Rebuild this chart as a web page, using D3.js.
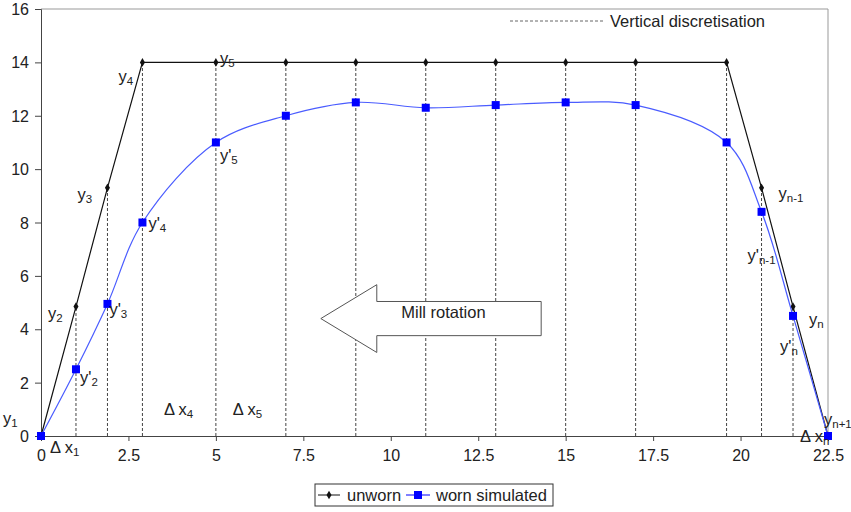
<!DOCTYPE html>
<html>
<head>
<meta charset="utf-8">
<script src="https://cdn.jsdelivr.net/npm/d3@7"></script>
<style>
  body { margin: 0; background: #fff; }
  text { font-family: "Liberation Sans", Arial, sans-serif; fill: #222; }
</style>
</head>
<body>
<div id="chart"></div>
<script>
// data
let xs = [0, 1, 1.9, 2.9, 5, 7, 9, 11, 13, 15, 17, 19.6, 20.6, 21.5, 22.5]
let unworn = [0, 4.85, 9.3, 14, 14, 14, 14, 14, 14, 14, 14, 14, 9.3, 4.85, 0]
let worn = [0, 2.5, 4.95, 8.0, 11.0, 12.0, 12.5, 12.3, 12.4, 12.5, 12.4, 11.0, 8.4, 4.5, 0]
let xTicks = [0, 2.5, 5, 7.5, 10, 12.5, 15, 17.5, 20, 22.5]
let yTicks = [0, 2, 4, 6, 8, 10, 12, 14, 16]

// point labels: [x, y, main, sub, dx, dy]
let labels = [
    [0, 0, "y", "1", -38, -12],
    [1, 4.85, "y", "2", -28, 12],
    [1.9, 9.3, "y", "3", -30, 12],
    [2.9, 14, "y", "4", -24, 20],
    [5, 14, "y", "5", 4, 2],
    [5, 11, "y'", "5", 4, 19],
    [2.9, 8.0, "y'", "4", 6, 6],
    [1.9, 4.95, "y'", "3", 2, 11],
    [1, 2.5, "y'", "2", 4, 14],
    [20.6, 9.3, "y", "n-1", 17, 11],
    [20.6, 8.4, "y'", "n-1", -14, 49],
    [21.5, 4.85, "y", "n", 16, 18],
    [21.5, 4.5, "y'", "n", -13, 36],
    [22.5, 0, "y", "n+1", -4, -11],
    [0, 0, "\u0394 x", "1", 9, 17],
    [4, 0, "\u0394 x", "4", -17, -21],
    [6, 0, "\u0394 x", "5", -18, -21],
    [22.5, 0, "\u0394 x", "n", -28, 6]
]

let margin = {top: 9, right: 23, bottom: 76, left: 41}
let width = 851 - margin.left - margin.right
let height = 512 - margin.top - margin.bottom

let svg = d3.select("#chart")
    .append("svg")
    .attr("width", 851)
    .attr("height", 512)

let g = svg.append("g")
    .attr("transform", "translate(" + margin.left + "," + margin.top + ")")

let x = d3.scaleLinear().domain([0, 22.5]).range([0, width])
let y = d3.scaleLinear().domain([0, 16]).range([height, 0])

// frame (top and right)
g.append("path")
    .attr("d", "M0,0H" + width + "V" + height)
    .attr("fill", "none")
    .attr("stroke", "#999")

// vertical discretisation lines
g.selectAll(".vline")
    .data(xs.slice(1, -1))
    .enter()
    .append("line")
    .attr("class", "vline")
    .attr("x1", (d) => x(d))
    .attr("x2", (d) => x(d))
    .attr("y1", y(0))
    .attr("y2", (d, i) => y(unworn[i + 1]))
    .attr("stroke", "#444")
    .attr("stroke-dasharray", "3,2")

let xAxis = g.append("g")
    .attr("transform", "translate(0," + height + ")")
    .call(d3.axisBottom(x).tickValues(xTicks).tickSize(5).tickPadding(9).tickFormat(d3.format("")))
let yAxis = g.append("g")
    .call(d3.axisLeft(y).tickValues(yTicks).tickSize(6).tickPadding(6))

for (let ax of [xAxis, yAxis]) {
    ax.select(".domain").attr("stroke", "#444")
    ax.selectAll(".tick line").attr("stroke", "#444")
    ax.selectAll("text").style("font-size", "16px").attr("fill", "#222")
}
yAxis.selectAll("text").attr("dy", "0.35em")

// unworn series
let unwornData = xs.map((d, i) => ({x: d, y: unworn[i]}))
let wornData = xs.map((d, i) => ({x: d, y: worn[i]}))

g.append("path")
    .datum(unwornData)
    .attr("d", d3.line().x((d) => x(d.x)).y((d) => y(d.y)))
    .attr("fill", "none")
    .attr("stroke", "#111")
    .attr("stroke-width", 1.2)

g.selectAll(".dia")
    .data(unwornData)
    .enter()
    .append("path")
    .attr("class", "dia")
    .attr("d", d3.symbol(d3.symbolDiamond, 22))
    .attr("transform", (d) => "translate(" + x(d.x) + "," + y(d.y) + ")")
    .attr("fill", "#111")

// worn simulated series
g.append("path")
    .datum(wornData)
    .attr("d", d3.line().x((d) => x(d.x)).y((d) => y(d.y)).curve(d3.curveCatmullRom.alpha(0.5)))
    .attr("fill", "none")
    .attr("stroke", "#4a5cff")
    .attr("stroke-width", 1.2)

g.selectAll(".sq")
    .data(wornData)
    .enter()
    .append("rect")
    .attr("class", "sq")
    .attr("x", (d) => x(d.x) - 4)
    .attr("y", (d) => y(d.y) - 4)
    .attr("width", 8)
    .attr("height", 8)
    .attr("fill", "#0000ff")

// point labels
let lab = g.selectAll(".lab")
    .data(labels)
    .enter()
    .append("text")
    .attr("class", "lab")
    .attr("x", (d) => x(d[0]) + d[4])
    .attr("y", (d) => y(d[1]) + d[5])
    .style("font-size", "16.5px")
lab.append("tspan").text((d) => d[2])
lab.append("tspan")
    .text((d) => d[3])
    .style("font-size", "11.5px")
    .attr("dy", 3)

// mill rotation arrow (in data units)
let ac = 4.4
let arrow = [
    [8, ac], [9.6, ac + 1.27], [9.6, ac + 0.64], [14.3, ac + 0.64],
    [14.3, ac - 0.64], [9.6, ac - 0.64], [9.6, ac - 1.27]
]
g.append("path")
    .attr("d", d3.line().x((d) => x(d[0])).y((d) => y(d[1]))(arrow) + "Z")
    .attr("fill", "#fff")
    .attr("stroke", "#555")
    .attr("stroke-width", 1)
g.append("text")
    .attr("x", x(10.3))
    .attr("y", y(ac) - 1)
    .style("font-size", "16.5px")
    .text("Mill rotation")

// top legend
svg.append("line")
    .attr("x1", 510).attr("x2", 605).attr("y1", 21).attr("y2", 21)
    .attr("stroke", "#666").attr("stroke-dasharray", "3,2")
svg.append("text")
    .attr("x", 610).attr("y", 27)
    .style("font-size", "16.5px")
    .text("Vertical discretisation")

// bottom legend
let lg = svg.append("g").attr("transform", "translate(315,484)")
lg.append("rect")
    .attr("width", 238).attr("height", 22)
    .attr("fill", "#fff").attr("stroke", "#333")
lg.append("line").attr("x1", 3).attr("x2", 25).attr("y1", 11).attr("y2", 11).attr("stroke", "#111")
lg.append("path").attr("d", d3.symbol(d3.symbolDiamond, 22)).attr("transform", "translate(14,11)").attr("fill", "#111")
lg.append("text").attr("x", 32).attr("y", 17).style("font-size", "16.5px").text("unworn")
lg.append("line").attr("x1", 91).attr("x2", 115).attr("y1", 11).attr("y2", 11).attr("stroke", "#0000ff")
lg.append("rect").attr("x", 99).attr("y", 7).attr("width", 8).attr("height", 8).attr("fill", "#0000ff")
lg.append("text").attr("x", 121).attr("y", 17).style("font-size", "16.5px").text("worn simulated")
</script>
</body>
</html>
